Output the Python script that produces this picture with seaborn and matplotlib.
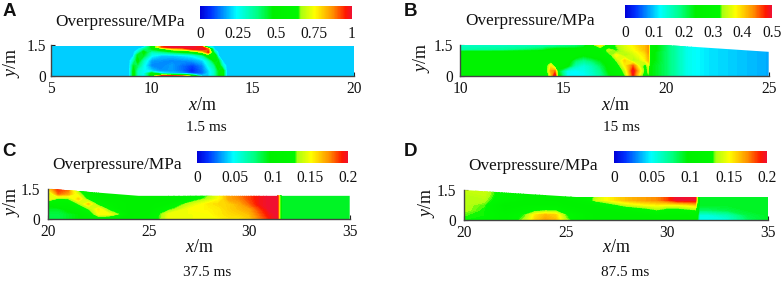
import numpy as np
import matplotlib
matplotlib.use("Agg")
import matplotlib.pyplot as plt
from matplotlib.colors import LinearSegmentedColormap
from matplotlib.patches import Polygon
import seaborn as sns

W, H = 782, 281
sns.set_theme(style="white")
plt.rcParams.update({
    "font.family": ["Liberation Serif"],
    "mathtext.fontset": "custom",
    "mathtext.rm": "Liberation Serif",
    "mathtext.it": "Liberation Serif:italic",
})

# ---------- panel A (1.5 ms) ----------
a_x = [5, 8.9, 9.1, 9.3, 9.6, 10, 10.5, 11, 11.5, 12, 12.5, 12.8, 13.1, 13.3, 13.5, 13.7, 20]
a_y = [0, .12, .25, .5, .75, 1.0, 1.15, 1.3, 1.4, 1.5]
a_z = [
    [.2, .2, .5, .3, .2, .55, .95, .95, .9, .6, .2, .2, .3, .45, .55, .2, .2],
    [.2, .2, .5, .3, .25, .5, .25, .2, .16, .08, .12, .2, .3, .45, .55, .2, .2],
    [.2, .2, .5, .3, .25, .2, .15, .16, .12, .05, .12, .2, .3, .45, .55, .2, .2],
    [.2, .2, .45, .4, .25, .14, .14, .16, .12, .08, .14, .25, .35, .55, .3, .2, .2],
    [.2, .2, .3, .5, .3, .16, .15, .14, .15, .16, .2, .3, .5, .45, .2, .2, .2],
    [.2, .2, .2, .45, .45, .25, .2, .2, .22, .25, .35, .55, .6, .2, .2, .2, .2],
    [.2, .2, .2, .28, .5, .3, .35, .4, .45, .5, .7, .95, .35, .2, .2, .2, .2],
    [.2, .2, .2, .2, .35, .45, .55, .75, .8, .95, 1, .9, .2, .2, .2, .2, .2],
    [.2, .2, .2, .2, .2, .5, .9, 1, 1, 1, .95, .3, .2, .2, .2, .2, .2],
    [.2, .2, .2, .2, .2, .35, .95, 1, 1, 1, .7, .2, .2, .2, .2, .2, .2],
]
a_top_x = [5, 20]
a_top_y = [1.47, 1.47]

# ---------- panel B (15 ms) ----------
b_x = [10, 12, 14, 14.2, 14.4, 14.6, 14.8, 15.2, 15.6, 16, 16.4, 16.8, 17.2, 17.6, 18, 18.4,
       18.7, 19.0, 19.15, 19.25, 20, 21, 22, 25]
b_y = [0, .25, .5, .75, 1.0, 1.15, 1.25, 1.5]
b_z = [
    [.27, .27, .27, .27, .38, .5, .25, .12, .12, .12, .14, .17, .22, .27, .32, .47, .37, .27, .32, .24, .2, .13, .11, .085],
    [.27, .27, .27, .3, .42, .44, .22, .13, .12, .13, .15, .18, .24, .28, .34, .49, .4, .3, .34, .24, .2, .13, .11, .085],
    [.27, .27, .27, .3, .38, .28, .27, .25, .16, .14, .16, .2, .25, .29, .38, .45, .36, .3, .36, .24, .2, .13, .11, .085],
    [.27, .27, .27, .27, .27, .27, .27, .27, .2, .18, .2, .23, .26, .33, .4, .33, .35, .38, .41, .25, .2, .13, .11, .085],
    [.27, .27, .27, .27, .27, .27, .27, .27, .27, .24, .26, .27, .29, .38, .33, .35, .37, .39, .42, .25, .2, .13, .11, .085],
    [.26, .26, .27, .27, .27, .27, .27, .27, .27, .27, .27, .27, .33, .33, .34, .36, .38, .40, .43, .25, .2, .13, .11, .085],
    [.17, .18, .22, .24, .25, .26, .26, .26, .26, .27, .27, .27, .34, .32, .35, .37, .39, .41, .43, .26, .2, .13, .11, .085],
    [.15, .15, .15, .15, .15, .15, .16, .17, .18, .2, .30, .38, .28, .33, .36, .38, .40, .41, .43, .26, .2, .13, .11, .085],
]
b_top_x = [10, 20, 25]
b_top_y = [1.5, 1.5, 1.17]

# ---------- panel C (37.5 ms) ----------
c_x = [20, 20.5, 21, 21.5, 22, 22.5, 23, 23.5, 24, 25, 26, 27, 28, 28.5, 29, 29.5, 30, 30.5, 31,
       31.4, 31.5, 31.6, 33, 35]
c_y = [0, .25, .5, .75, 1.0, 1.25, 1.5]
c_z = [
    [.085, .085, .09, .095, .1, .105, .1, .1, .1, .11, .148, .148, .15, .15, .155, .155, .16, .175, .19, .2, .15, .09, .09, .09],
    [.085, .085, .09, .095, .105, .15, .15, .13, .1, .105, .148, .148, .15, .155, .158, .16, .165, .18, .195, .2, .15, .09, .09, .09],
    [.09, .09, .1, .105, .13, .155, .125, .105, .1, .1, .125, .15, .152, .155, .16, .165, .17, .185, .2, .2, .15, .09, .09, .09],
    [.1, .11, .11, .13, .16, .12, .11, .105, .1, .1, .105, .138, .155, .158, .16, .168, .18, .195, .2, .2, .15, .09, .09, .09],
    [.15, .125, .13, .16, .12, .105, .1, .1, .1, .1, .1, .11, .138, .15, .17, .175, .185, .195, .2, .2, .15, .09, .09, .09],
    [.13, .18, .17, .14, .11, .1, .1, .1, .1, .1, .1, .105, .13, .15, .17, .178, .185, .195, .2, .2, .15, .09, .09, .09],
    [.16, .19, .18, .12, .105, .1, .1, .1, .1, .1, .1, .105, .13, .15, .17, .178, .185, .195, .2, .2, .15, .09, .09, .09],
]
c_top_x = [20, 24.5, 35]
c_top_y = [1.5, 1.15, 1.15]

# ---------- panel D (87.5 ms) ----------
d_x = [20, 21, 22, 23, 23.5, 24, 24.5, 25, 26, 26.5, 27, 28, 29, 29.5, 30, 30.5, 31, 31.4, 31.5,
       31.6, 32, 33, 34, 35]
d_y = [0, .25, .5, .75, 1.0, 1.25, 1.5]
d_z = [
    [.128, .125, .115, .135, .16, .17, .165, .135, .105, .1, .1, .1, .1, .1, .1, .1, .1, .1, .09, .05, .05, .055, .08, .09],
    [.13, .128, .115, .13, .155, .165, .16, .13, .105, .1, .1, .1, .1, .105, .105, .105, .105, .11, .1, .055, .055, .065, .085, .09],
    [.135, .128, .105, .115, .12, .125, .125, .11, .1, .1, .1, .105, .12, .13, .12, .12, .125, .13, .11, .08, .08, .085, .09, .09],
    [.135, .13, .098, .105, .105, .105, .105, .1, .1, .1, .115, .14, .15, .152, .15, .15, .155, .16, .12, .09, .09, .09, .09, .09],
    [.135, .135, .115, .105, .105, .1, .1, .1, .11, .14, .15, .165, .172, .175, .185, .2, .2, .2, .13, .09, .09, .09, .09, .09],
    [.135, .138, .118, .105, .105, .1, .1, .1, .105, .135, .15, .165, .172, .175, .185, .2, .2, .2, .13, .09, .09, .09, .09, .09],
    [.138, .14, .118, .105, .105, .1, .1, .1, .1, .1, .1, .1, .1, .1, .1, .1, .1, .1, .09, .09, .09, .09, .09, .09],
]
d_top_x = [20, 25.5, 35]
d_top_y = [1.5, 1.15, 1.15]

a_xticks = [5, 10, 15, 20]
b_xticks = [10, 15, 20, 25]
cd_xticks = [20, 25, 30, 35]
a_cbar = ["0", "0.25", "0.5", "0.75", "1"]
b_cbar = ["0", "0.1", "0.2", "0.3", "0.4", "0.5"]
cd_cbar = ["0", "0.05", "0.1", "0.15", "0.2"]

cmap = LinearSegmentedColormap.from_list("ramp", [
    (0.0, "#0000d8"), (0.07, "#0030ff"), (0.24, "#00ffff"), (0.38, "#00ff80"),
    (0.48, "#00f000"), (0.645, "#00f800"), (0.665, "#a8ff10"), (0.755, "#ffff00"),
    (0.875, "#ff9000"), (0.96, "#ff1800"), (1.0, "#f01030"),
])

# pixel boxes: axes (l, r, top, bottom), colourbar (l, r, top, bottom)
panels = [
    dict(letter="A", lx=3, ly=12, x=a_x, y=a_y, z=a_z, tx=a_top_x, ty=a_top_y, vmax=1.0, xlim=(5, 20), xt=a_xticks,
         box=(50.7, 353.7, 45, 76), cb=(200, 352, 6, 18.7), cl=a_cbar, title=(55, 21.7), xlab=(202, 105), ylab=(12, 63),
         when="1.5 ms", wp=(206, 127.5), pad=3.5),
    dict(letter="B", lx=404, ly=12, x=b_x, y=b_y, z=b_z, tx=b_top_x, ty=b_top_y, vmax=.5, xlim=(10, 25), xt=b_xticks,
         box=(460.3, 768.7, 45, 76), cb=(625, 771.7, 5.3, 17.7), cl=b_cbar, title=(465, 20.7), xlab=(615, 105), ylab=(421, 58),
         when="15 ms", wp=(621.7, 127.5), pad=5.5),
    dict(letter="C", lx=2, ly=152, x=c_x, y=c_y, z=c_z, tx=c_top_x, ty=c_top_y, vmax=.2, xlim=(20, 35), xt=cd_xticks,
         box=(48.3, 349.7, 188.7, 219.3), cb=(197, 348.3, 150.7, 163), cl=cd_cbar, title=(52.7, 165), xlab=(199, 247.5), ylab=(12, 202),
         when="37.5 ms", wp=(207, 272.5), pad=6),
    dict(letter="D", lx=404, ly=152, x=d_x, y=d_y, z=d_z, tx=d_top_x, ty=d_top_y, vmax=.2, xlim=(20, 35), xt=cd_xticks,
         box=(464.3, 768.3, 190, 220), cb=(614.3, 766.7, 150.7, 163), cl=cd_cbar, title=(468.7, 166), xlab=(616, 248), ylab=(426, 203),
         when="87.5 ms", wp=(625, 272.5), pad=6),
]

fig = plt.figure(figsize=(W / 100, H / 100), dpi=100, facecolor="white")


def fx(px):
    return px / W


def fy(py):
    return 1 - py / H


INK = "#222222"
for p in panels:
    l, r, t, b = p["box"]
    ax = fig.add_axes([fx(l), fy(b), (r - l) / W, (b - t) / H])
    levels = np.linspace(0, p["vmax"], 129)
    cs = ax.contourf(p["x"], p["y"], np.array(p["z"]), levels=levels, cmap=cmap, extend="both", antialiased=False)
    ax.set_xlim(*p["xlim"])
    ax.set_ylim(0, 1.5)
    clip_x = list(p["tx"]) + [p["tx"][-1], p["tx"][0]]
    clip_y = list(p["ty"]) + [0, 0]
    clip = Polygon(np.column_stack([clip_x, clip_y]), closed=True, transform=ax.transData, fc="none", ec="none")
    ax.add_patch(clip)
    cs.set_clip_path(clip)
    ax.set_xticks(p["xt"])
    ax.set_yticks([0, 1.5])
    ax.set_yticklabels(["0", "1.5"])
    ax.tick_params(direction="in", length=3, width=.8, color=INK, labelsize=11.2, labelcolor="#111111",
                   left=True, bottom=True)
    ax.tick_params(axis="x", pad=3.5)
    ax.tick_params(axis="y", pad=p["pad"])
    sns.despine(ax=ax)
    for s in ("left", "bottom"):
        ax.spines[s].set_linewidth(1.0)
        ax.spines[s].set_color("#444444")
    ax.set_xlabel(r"$\mathit{x}$/m", fontsize=13, color="#111111", ha="center", va="center")
    ax.xaxis.set_label_coords(fx(p["xlab"][0]), fy(p["xlab"][1]), transform=fig.transFigure)
    ax.set_ylabel(r"$\mathit{y}$/m", fontsize=13, color="#111111", ha="center", va="center")
    ax.yaxis.set_label_coords(fx(p["ylab"][0]), fy(p["ylab"][1]), transform=fig.transFigure)

    # colour key drawn by seaborn
    cl, cr, ct, cb = p["cb"]
    cax = fig.add_axes([fx(cl), fy(cb), (cr - cl) / W, (cb - ct) / H])
    key = np.linspace(0, 1, 256)[None, :]
    sns.heatmap(key, ax=cax, cmap=cmap, vmin=0, vmax=1, cbar=False, xticklabels=False, yticklabels=False)
    cax.set_xticks(np.linspace(0, 256, len(p["cl"])))
    cax.set_xticklabels(p["cl"], rotation=0, fontsize=11.2, color="#111111")
    cax.set_yticks([])
    cax.tick_params(axis="x", length=0, pad=5)

    fig.text(fx(p["title"][0]), fy(p["title"][1]), "Overpressure/MPa", fontsize=12.4, color="#111111", va="center", ha="left")
    fig.text(fx(p["wp"][0]), fy(p["wp"][1]), p["when"], fontsize=11, color="#111111", va="center", ha="center")
    fig.text(fx(p["lx"]), fy(p["ly"]), p["letter"], fontsize=13.5, fontweight="bold", family=["Liberation Sans"],
             color="#111111", va="center", ha="left")

fig.savefig("out.png", dpi=100, facecolor="white")
